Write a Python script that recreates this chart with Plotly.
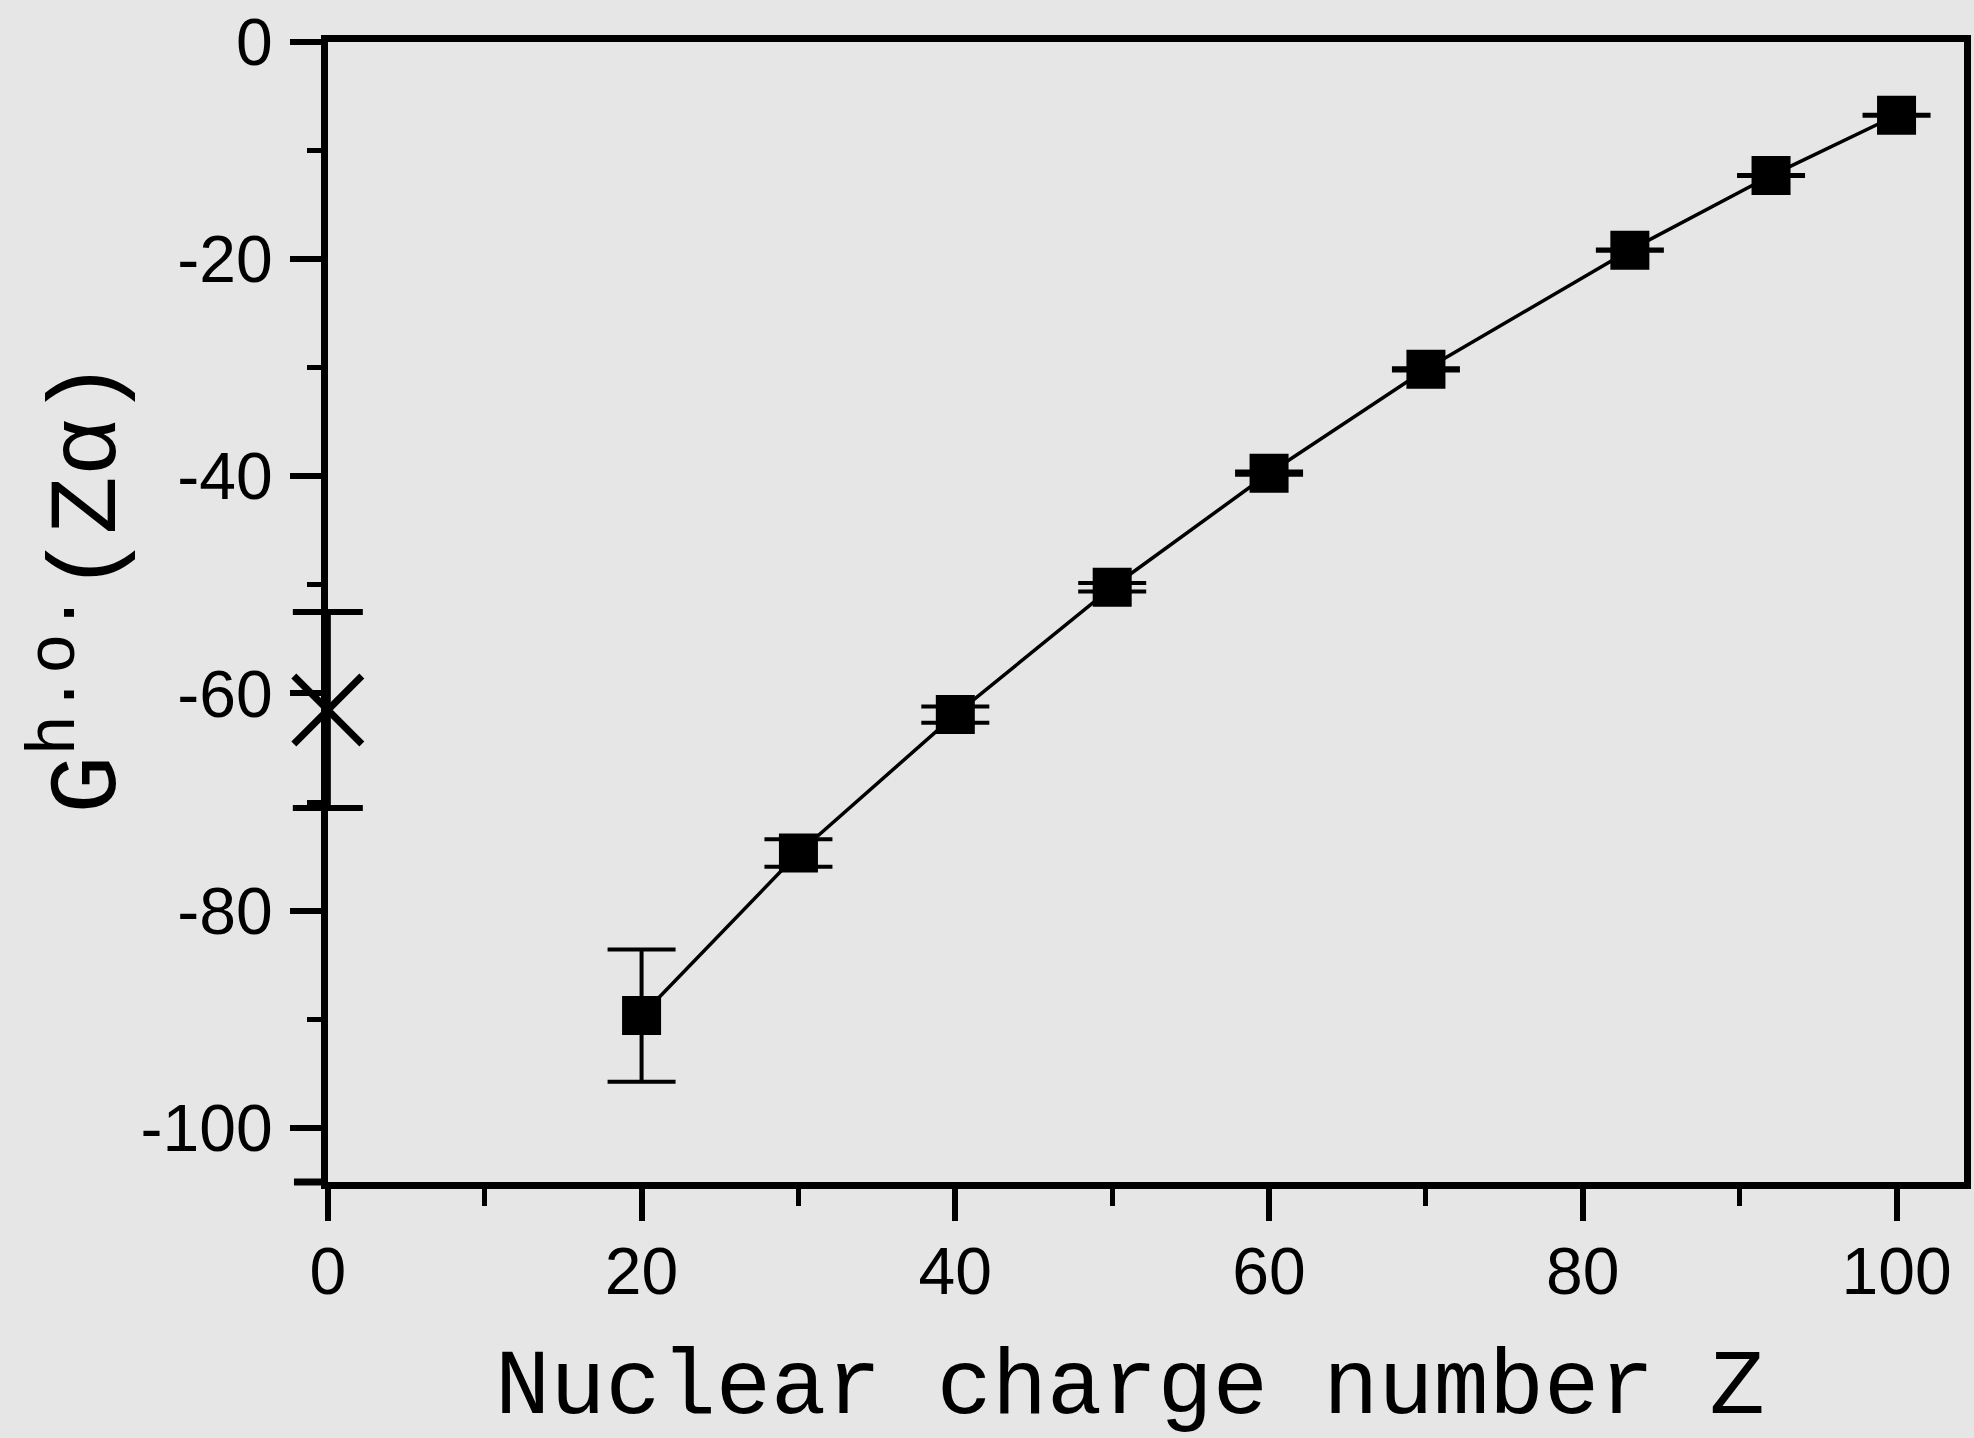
import plotly.graph_objects as go

# Data
Z = [20, 30, 40, 50, 60, 70, 83, 92, 100]
G_ho = [-89.67, -74.7, -61.95, -50.22, -39.72, -30.15, -19.17, -12.3, -6.75]
G_err = [6.09, 1.26, 0.74, 0.39, 0.15, 0.1, 0.05, 0.05, 0.05]

Z_ref = [0]
G_ref = [-61.53]
G_ref_err = [9.02]

x_ticks = [0, 20, 40, 60, 80, 100]
y_ticks = [0, -20, -40, -60, -80, -100]

X_MAX = 104.3
Y_MIN = -105

BG = "#e6e6e6"
TICKFONT = dict(family="Liberation Sans, Arial, sans-serif", size=66, color="black")
XTITLEFONT = dict(family="Liberation Mono, Courier New, monospace", size=92, color="black")
YTITLEFONT = dict(family="Liberation Mono, Courier New, monospace", size=97, color="black")

# layout geometry (pixels)
W, H = 1974, 1438
ML, MR, MT, MB = 288, 3, 42, 256
EXTRA = 40  # extra room left of the main plot for the unclipped reference point
plot_w = W - ML - MR
d0 = EXTRA / plot_w
main_len = plot_w - EXTRA
px_per_unit = main_len / X_MAX
x2_min = -EXTRA / px_per_unit

fig = go.Figure()

fig.add_trace(go.Scatter(
    x=Z, y=G_ho,
    mode="lines+markers",
    line=dict(color="black", width=3.5),
    marker=dict(symbol="square", size=39, color="black", line=dict(width=0)),
    error_y=dict(type="data", array=G_err, visible=True, color="black",
                 thickness=4, width=34),
    showlegend=False,
    cliponaxis=False,
    xaxis="x", yaxis="y",
))

fig.add_trace(go.Scatter(
    x=Z_ref, y=G_ref,
    mode="markers",
    marker=dict(symbol="x-thin", size=68, color="black",
                line=dict(width=7, color="black")),
    error_y=dict(type="data", array=G_ref_err, visible=True, color="black",
                 thickness=6, width=35),
    showlegend=False,
    cliponaxis=False,
    xaxis="x2", yaxis="y",
))

fig.update_layout(
    xaxis=dict(
        domain=[d0, 1],
        range=[0, X_MAX],
        tickmode="array", tickvals=x_ticks, ticktext=[str(v) for v in x_ticks],
        ticks="outside", ticklen=32, tickwidth=6, tickcolor="black",
        minor=dict(dtick=10, tick0=0, ticks="outside", ticklen=17, tickwidth=5, tickcolor="black"),
        showline=True, linecolor="black", linewidth=7, mirror=True,
        showgrid=False, zeroline=False,
        tickfont=TICKFONT, ticklabelstandoff=-6,
        anchor="y",
    ),
    xaxis2=dict(
        domain=[0, 1],
        range=[x2_min, X_MAX],
        visible=False, showgrid=False, zeroline=False,
        anchor="y",
    ),
    yaxis=dict(
        domain=[0, 1],
        range=[Y_MIN, 0],
        tickmode="array", tickvals=y_ticks, ticktext=[str(v) for v in y_ticks],
        ticks="outside", ticklen=31, tickwidth=6, tickcolor="black",
        minor=dict(dtick=10, tick0=0, ticks="outside", ticklen=14, tickwidth=5, tickcolor="black"),
        showline=True, linecolor="black", linewidth=7, mirror=True,
        showgrid=False, zeroline=False,
        tickfont=TICKFONT, ticklabelstandoff=4,
        anchor="x",
    ),
)

# axis titles
fig.add_annotation(
    text="Nuclear charge number Z",
    xref="paper", yref="paper", x=d0 + (1 - d0) * 0.49, y=-0.181,
    xanchor="center", yanchor="middle", showarrow=False,
    font=XTITLEFONT,
)
fig.add_annotation(
    text="G<sup>h.o.</sup>(Z\u03b1)",
    xref="paper", yref="paper", x=(80 - ML) / plot_w, y=0.522,
    xanchor="center", yanchor="middle", showarrow=False,
    textangle=-90, font=YTITLEFONT,
)

# small left extension of the bottom frame line
fig.add_shape(type="line", xref="paper", yref="paper",
              x0=d0 - 34 / plot_w, x1=d0, y0=0, y1=0,
              line=dict(color="black", width=7))

fig.update_layout(
    width=W, height=H, autosize=False,
    margin=dict(l=ML, r=MR, t=MT, b=MB),
    paper_bgcolor=BG, plot_bgcolor="rgba(0,0,0,0)",
)

fig.write_html("out.html")
